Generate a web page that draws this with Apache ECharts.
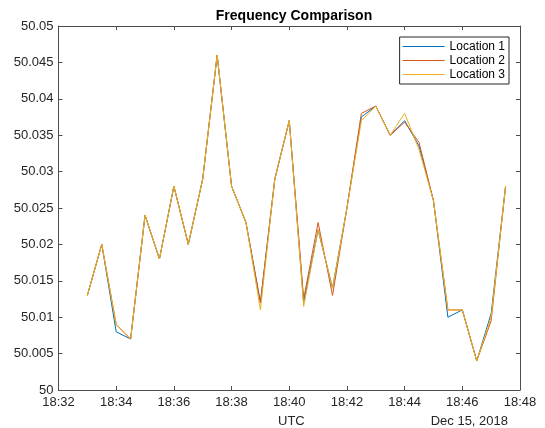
<!DOCTYPE html>
<html>
<head>
<meta charset="utf-8">
<script src="https://cdn.jsdelivr.net/npm/echarts@6/dist/echarts.min.js"></script>
<style>
html,body{margin:0;padding:0;background:#fff;}
#chart{width:545px;height:428px;}
</style>
</head>
<body>
<div id="chart"></div>
<script>
// Sample times (UTC, Dec 15, 2018)
var times = ["18:33:00","18:33:30","18:34:00","18:34:30","18:35:00","18:35:30","18:36:00","18:36:30","18:37:00","18:37:30",
             "18:38:00","18:38:30","18:39:00","18:39:30","18:40:00","18:40:30","18:41:00","18:41:30","18:42:00","18:42:30",
             "18:43:00","18:43:30","18:44:00","18:44:30","18:45:00","18:45:30","18:46:00","18:46:30","18:47:00","18:47:30"];
var location1 = [50.013,50.020,50.008,50.007,50.024,50.018,50.028,50.020,50.029,50.046,
                 50.028,50.023,50.012,50.029,50.037,50.012,50.022,50.014,50.025,50.0375,
                 50.039,50.035,50.037,50.0335,50.026,50.010,50.011,50.004,50.0105,50.028];
var location2 = [50.013,50.020,50.009,50.007,50.024,50.018,50.028,50.020,50.029,50.046,
                 50.028,50.023,50.012,50.029,50.037,50.0125,50.023,50.013,50.025,50.038,
                 50.039,50.035,50.0368,50.034,50.026,50.011,50.011,50.004,50.0095,50.028];
var location3 = [50.013,50.020,50.009,50.007,50.024,50.018,50.028,50.020,50.029,50.046,
                 50.028,50.023,50.011,50.029,50.037,50.0115,50.022,50.014,50.025,50.037,
                 50.039,50.035,50.038,50.033,50.026,50.011,50.011,50.004,50.010,50.028];
var seriesNames = ["Location 1","Location 2","Location 3"];
var xTickStart = "18:32", xTickEnd = "18:48", xTickStepMin = 2;
var yMin = 50, yMax = 50.05, yStep = 0.005;

function toMin(s){ var p = s.split(":"); return (+p[0])*60 + (+p[1]) + (p[2] ? (+p[2])/60 : 0); }
function fmtTime(v){ var m = Math.round(v); var h = Math.floor(m/60), mm = m%60; return h + ":" + (mm<10?"0":"") + mm; }
function fmtY(v){ var s = v.toFixed(3); s = s.replace(/0+$/,"").replace(/\.$/,""); return s; }
function pairs(arr){ return arr.map(function(v,i){ return [toMin(times[i]), v]; }); }

var font = "'Liberation Sans', Arial, Helvetica, sans-serif";
var ink = "#262626";
var frame = "#4d4d4d";
var colors = ["#0072BD","#D95319","#EDB120"];

var chart = echarts.init(document.getElementById("chart"), null, {renderer:"canvas"});
var xMin = toMin(xTickStart), xMax = toMin(xTickEnd);
var commonX = {type:"value", min:xMin, max:xMax, interval:xTickStepMin, splitLine:{show:false},
  axisLine:{show:true, onZero:false, lineStyle:{color:frame, width:1}},
  axisTick:{show:true, inside:true, length:4, lineStyle:{color:frame, width:1}}};
var commonY = {type:"value", min:yMin, max:yMax, interval:yStep, splitLine:{show:false}, scale:true,
  axisLine:{show:true, onZero:false, lineStyle:{color:frame, width:1}},
  axisTick:{show:true, inside:true, length:4, lineStyle:{color:frame, width:1}}};

var option = {
  animation:false,
  backgroundColor:"#fff",
  color:colors,
  title:{text:"Frequency Comparison", left:289, top:4, textAlign:"center",
    textStyle:{fontFamily:font, fontSize:14, fontWeight:"bold", color:"#000"}},
  grid:{left:58.5, right:25, top:26, bottom:38, containLabel:false},
  legend:{orient:"vertical", right:36, top:37, data:seriesNames, icon:"rect", itemWidth:42, itemHeight:1, itemGap:1,
    padding:[3,4,3,3], borderColor:ink, borderWidth:1, backgroundColor:"#fff",
    textStyle:{fontFamily:font, fontSize:12, color:"#000", lineHeight:13, padding:[0,0,0,0]}},
  xAxis:[
    Object.assign({}, commonX, {position:"bottom",
      axisLabel:{show:true, formatter:fmtTime, fontFamily:font, fontSize:13, color:ink, margin:6}}),
    Object.assign({}, commonX, {position:"top", axisLabel:{show:false}})
  ],
  yAxis:[
    Object.assign({}, commonY, {position:"left",
      axisLabel:{show:true, formatter:fmtY, fontFamily:font, fontSize:13, color:ink, margin:5}}),
    Object.assign({}, commonY, {position:"right", axisLabel:{show:false}})
  ],
  graphic:[
    {type:"text", left:278, top:415, style:{text:"UTC", font:"13px " + font, fill:ink}},
    {type:"text", right:37, top:415, style:{text:"Dec 15, 2018", font:"13px " + font, fill:ink}}
  ],
  series:[location1, location2, location3].map(function(arr, i){
    return {name:seriesNames[i], type:"line", data:pairs(arr), symbol:"none", showSymbol:false,
      xAxisIndex:0, yAxisIndex:0, lineStyle:{width:1, color:colors[i]}, itemStyle:{color:colors[i]}, z:2+i};
  })
};
chart.setOption(option);
</script>
</body>
</html>
